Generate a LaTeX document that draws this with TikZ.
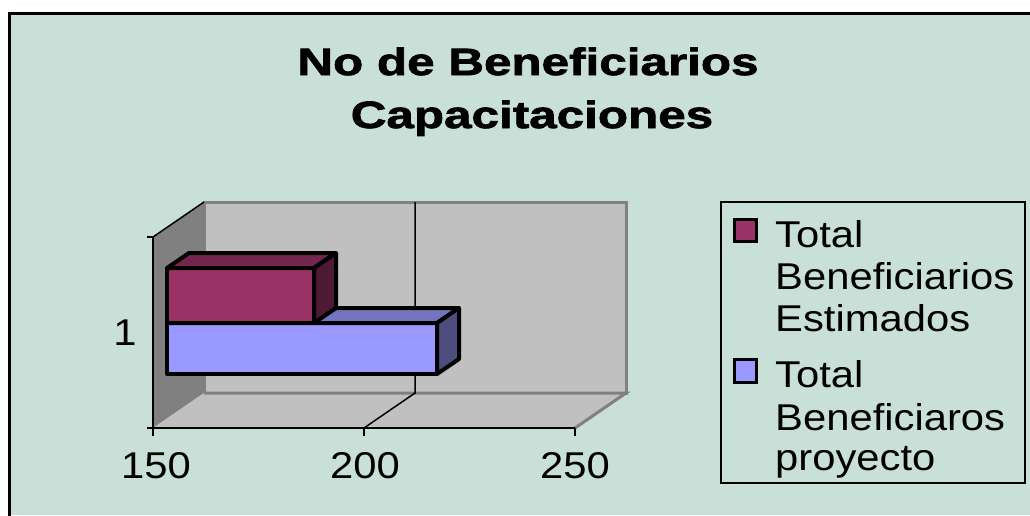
\documentclass[tikz,border=0pt]{standalone}
\usepackage{fontspec}
\setmainfont{Liberation Sans}
\newfontfamily\titlefont[FakeStretch=1.3,FakeBold=2]{Liberation Sans}
\newfontfamily\labelfont[FakeStretch=1.12]{Liberation Sans}
\usepackage{tikz}
\usetikzlibrary{positioning}
\definecolor{chartbg}{RGB}{200,224,216}
\definecolor{wallgray}{RGB}{192,192,192}
\definecolor{sidegray}{RGB}{128,128,128}
\definecolor{estfront}{RGB}{153,51,102}
\definecolor{esttop}{RGB}{115,38,77}
\definecolor{estside}{RGB}{77,25,51}
\definecolor{proyfront}{RGB}{153,153,255}
\definecolor{proytop}{RGB}{115,115,191}
\definecolor{proyside}{RGB}{77,77,128}

\begin{document}
\begin{tikzpicture}[x=1pt,y=-1pt,
    bar/.style={draw=black, line width=4pt, line join=round},
    lbl/.style={font=\labelfont\fontsize{37.3}{43}\selectfont, inner sep=0pt},
    ttl/.style={font=\titlefont\bfseries\fontsize{38}{45}\selectfont, inner sep=0pt}]
  \useasboundingbox (0,0) rectangle (1030,515);
  \fill[white] (0,0) rectangle (1030,515);
  \fill[chartbg] (9,13) rectangle (1030,515);
  \draw[line width=3pt] (9.5,520) -- (9.5,13.5) -- (1035,13.5);
  % walls and floor
  \draw[draw=sidegray, line width=3pt, fill=wallgray] (204,202) rectangle (626,393);
  \fill[sidegray] (153,237) -- (204,202) -- (204,393) -- (153,428) -- cycle;
  \fill[wallgray] (153,428) -- (204,393) -- (626,393) -- (575,428) -- cycle;
  \draw[sidegray, line width=3pt] (204,393) -- (626,393) -- (575,428);
  \draw[line width=1.5pt] (415,202) -- (415,393) -- (364,428);
  % axes
  \draw[line width=1.5pt] (153,237) -- (204,202);
  \draw[line width=2pt] (147,237) -- (153,237) -- (153,428) -- (575,428);
  \draw[line width=2pt] (147,428) -- (153,428);
  \foreach \x in {153,364,575}
    \draw[line width=2pt] (\x,428) -- (\x,436);
  % bars
  \foreach \yt/\yb/\xr/\c in {323/374/437/proy, 268/323/314/est} {
    \draw[bar, fill=\c front] (167,\yt) rectangle (\xr,\yb);
    \draw[bar, fill=\c top] (167,\yt) -- (189,\yt-15) -- (\xr+22,\yt-15) -- (\xr,\yt) -- cycle;
    \draw[bar, fill=\c side] (\xr,\yt) -- (\xr+22,\yt-15) -- (\xr+22,\yb-15) -- (\xr,\yb) -- cycle;
  }
  % labels
  \node[ttl, anchor=base] (title1) at (528,75) {No de Beneficiarios};
  \node[ttl, anchor=base] (title2) at (532,128) {Capacitaciones};
  \node[lbl, anchor=base] (cat1) at (125,345) {1};
  \node[lbl, anchor=base] (x150) at (156,478) {150};
  \node[lbl, anchor=base] (x200) at (365,478) {200};
  \node[lbl, anchor=base] (x250) at (575,478) {250};
  % legend
  \draw[line width=2pt] (721,202) rectangle (1025,483);
  \draw[line width=3pt, fill=estfront] (734,219) rectangle (756,241);
  \draw[line width=3pt, fill=proyfront] (734,359) rectangle (756,382);
  \node[lbl, anchor=base west] (est1) at (775,247) {Total};
  \node[lbl, anchor=base west] (est2) at (775,289) {Beneficiarios};
  \node[lbl, anchor=base west] (est3) at (775,331) {Estimados};
  \node[lbl, anchor=base west] (proy1) at (775,387) {Total};
  \node[lbl, anchor=base west] (proy2) at (775,430) {Beneficiaros};
  \node[lbl, anchor=base west] (proy3) at (775,470) {proyecto};
\end{tikzpicture}
\end{document}
